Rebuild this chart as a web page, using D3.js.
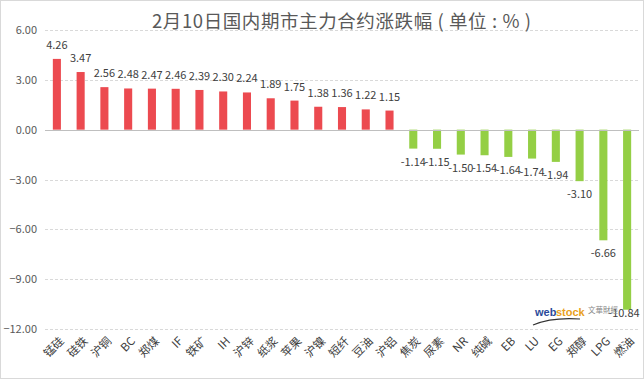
<!DOCTYPE html>
<html><head><meta charset="utf-8">
<script src="https://cdn.jsdelivr.net/npm/d3@7"></script>
<style>
body{margin:0;background:#fff;}
text{font-family:"Microsoft YaHei","Noto Sans CJK SC","Open Sans",sans-serif;}
</style></head>
<body>
<svg id="chart" width="644" height="379"></svg>
<script>
const title = "2月10日国内期市主力合约涨跌幅 ( 单位 : % )";
const categories = ["锰硅","硅铁","沪铜","BC","郑煤","IF","铁矿","IH","沪锌","纸浆","苹果","沪镍","短纤","豆油","沪铝","焦炭","尿素","NR","纯碱","EB","LU","EG","郑醇","LPG","燃油"];
const values = [4.26,3.47,2.56,2.48,2.47,2.46,2.39,2.30,2.24,1.89,1.75,1.38,1.36,1.22,1.15,-1.14,-1.15,-1.50,-1.54,-1.64,-1.74,-1.94,-3.10,-6.66,-10.84];
const yTicks = [6,3,0,-3,-6,-9,-12];

const svg = d3.select("#chart");
const W = 644, H = 379;
const plot = {left:45, right:639, top:30, bottom:329};

svg.append("rect").attr("x",0.5).attr("y",0.5).attr("width",W-1).attr("height",H-1)
  .attr("fill","#fff").attr("stroke","#d9d9d9");

const x = d3.scaleBand().domain(categories).range([plot.left, plot.right]).paddingInner(0.66).paddingOuter(0.33);
const y = d3.scaleLinear().domain([-12,6]).range([plot.bottom, plot.top]);

// gridlines
svg.append("g").selectAll("line").data(yTicks.filter(d=>d!==0)).join("line")
  .attr("x1",plot.left).attr("x2",plot.right)
  .attr("y1",d=>Math.round(y(d))+0.5).attr("y2",d=>Math.round(y(d))+0.5)
  .attr("stroke","#d9d9d9").attr("stroke-dasharray","3,2");

// y axis labels
const yAxis = d3.axisLeft(y).tickValues(yTicks).tickFormat(d3.format(".2f")).tickSize(0).tickPadding(8);
const ga = svg.append("g").attr("transform",`translate(${plot.left},0)`).call(yAxis);
ga.select(".domain").remove();
ga.selectAll("text").attr("fill","#595959").style("font-size","11px");

// bars
svg.append("g").selectAll("rect").data(values).join("rect")
  .attr("x",(d,i)=>x(categories[i]))
  .attr("width",x.bandwidth())
  .attr("y",d=>y(Math.max(0,d)))
  .attr("height",d=>Math.abs(y(d)-y(0)))
  .attr("fill",d=>d>=0?"#ec4a50":"#94cf45");

// zero line
svg.append("line").attr("x1",plot.left).attr("x2",plot.right)
  .attr("y1",Math.round(y(0))+0.5).attr("y2",Math.round(y(0))+0.5)
  .attr("stroke","#bfbfbf");

// value labels
svg.append("g").selectAll("text").data(values).join("text")
  .attr("x",(d,i)=>Math.min(x(categories[i])+x.bandwidth()/2, plot.right-15))
  .attr("y",d=>d>=0 ? y(d)-10 : Math.min(y(d)+17, plot.bottom-12))
  .attr("text-anchor","middle")
  .attr("fill","#404040").style("font-size","11px")
  .text(d=>d.toFixed(2));

// x labels
svg.append("g").selectAll("text").data(categories).join("text")
  .attr("transform",d=>`translate(${x(d)+x.bandwidth()/2+5},${plot.bottom+10}) rotate(-45)`)
  .attr("text-anchor","end").attr("dy","0.35em")
  .attr("fill","#404040").style("font-size","11.5px")
  .text(d=>d);

// title
svg.append("text").attr("x",152).attr("y",28)
  .attr("textLength",379).attr("lengthAdjust","spacing")
  .attr("fill","#595959").style("font-size","18.5px").text(title);

// watermark
const wm = svg.append("g");
wm.append("text").attr("x",535).attr("y",316).style("font-size","11px").style("font-weight","bold")
  .style("font-family","Arial, 'Liberation Sans', sans-serif")
  .attr("fill","#2a4a9a").text("web");
wm.append("text").attr("x",556).attr("y",316).style("font-size","11px").style("font-weight","bold")
  .style("font-family","Arial, 'Liberation Sans', sans-serif")
  .attr("fill","#e8a020").text("stock");
wm.append("path").attr("d","M533,325 Q552,317 580,319").attr("fill","none").attr("stroke","#333").attr("stroke-width",1.1);
wm.append("text").attr("x",588).attr("y",313).style("font-size","7.5px").attr("fill","#888").text("文華財經");
</script>
</body></html>
